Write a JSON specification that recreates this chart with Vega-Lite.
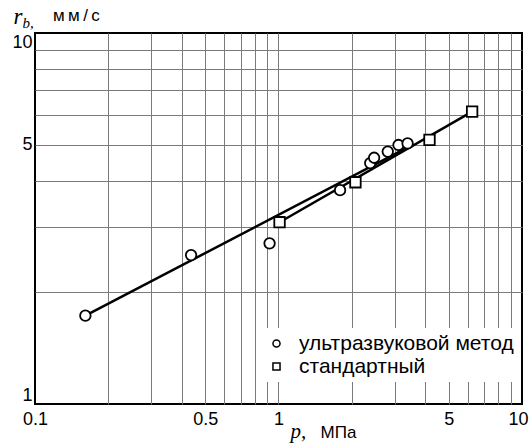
{
  "$schema": "https://vega.github.io/schema/vega-lite/v6.json",
  "width": 487,
  "height": 371,
  "autosize": {"type": "none"},
  "padding": {"left": 35, "top": 33, "right": 7, "bottom": 40},
  "background": "white",
  "config": {"view": {"stroke": "black", "strokeWidth": 2}, "font": "Liberation Sans", "point": {"opacity": 1}},
  "title": {"text": "м\u2009м\u2009/\u2009с", "anchor": "start", "frame": "group", "font": "Liberation Sans", "fontSize": 17, "fontWeight": "normal", "color": "black", "dx": 18, "dy": 33, "offset": 0, "baseline": "alphabetic"},
  "datasets": {
    "pts": [
      {"series": "ультразвуковой метод", "p": 0.161, "r": 1.73},
      {"series": "ультразвуковой метод", "p": 0.4375, "r": 2.52},
      {"series": "ультразвуковой метод", "p": 0.919, "r": 2.71},
      {"series": "ультразвуковой метод", "p": 1.79, "r": 3.77},
      {"series": "ультразвуковой метод", "p": 2.38, "r": 4.46},
      {"series": "ультразвуковой метод", "p": 2.47, "r": 4.61},
      {"series": "ультразвуковой метод", "p": 2.81, "r": 4.79},
      {"series": "ультразвуковой метод", "p": 3.11, "r": 4.99},
      {"series": "ультразвуковой метод", "p": 3.39, "r": 5.04},
      {"series": "стандартный", "p": 1.01, "r": 3.09},
      {"series": "стандартный", "p": 2.07, "r": 3.96},
      {"series": "стандартный", "p": 4.17, "r": 5.15},
      {"series": "стандартный", "p": 6.24, "r": 6.14}
    ],
    "fit": [
      {"line": "u", "p": 0.161, "r": 1.73},
      {"line": "u", "p": 3.5, "r": 4.97},
      {"line": "s", "p": 1.01, "r": 3.09},
      {"line": "s", "p": 6.24, "r": 6.14}
    ]
  },
  "layer": [
    {
      "data": {"name": "fit"},
      "mark": {"type": "line", "color": "black", "strokeWidth": 2.5},
      "encoding": {
        "x": {
          "field": "p", "type": "quantitative",
          "scale": {"type": "log", "domain": [0.1, 10]},
          "axis": {
            "orient": "bottom",
            "values": [0.1, 0.2, 0.3, 0.4, 0.5, 0.6, 0.7, 0.8, 0.9, 1, 2, 3, 4, 5, 6, 7, 8, 9, 10],
            "format": "~g",
            "labelExpr": "(datum.value == 0.1 || datum.value == 0.5 || datum.value == 1 || datum.value == 5 || datum.value == 10) ? datum.label : ''",
            "grid": true,
            "gridColor": {"condition": {"test": "datum.value == 0.1 || datum.value == 10", "value": "transparent"}, "value": "#7a7a7a"},
            "gridWidth": 1,
            "ticks": false,
            "domain": false,
            "labelFont": "Liberation Sans",
            "labelFontSize": 18,
            "labelColor": "black",
            "labelPadding": 6,
            "labelFlush": false,
            "labelOverlap": false,
            "labelOffset": {"condition": {"test": "datum.value == 10", "value": -4}, "value": 0},
            "title": "p,",
            "titleFont": "Liberation Serif",
            "titleFontStyle": "italic",
            "titleFontWeight": "normal",
            "titleFontSize": 21,
            "titleColor": "black",
            "titleX": 255,
            "titleY": 33,
            "titleAlign": "left",
            "titleBaseline": "alphabetic"
          }
        },
        "y": {
          "field": "r", "type": "quantitative",
          "scale": {"type": "log", "domain": [1, 10]},
          "axis": {
            "orient": "left",
            "values": [1, 2, 3, 4, 5, 6, 7, 8, 9, 10],
            "format": "~g",
            "labelExpr": "(datum.value == 1 || datum.value == 5 || datum.value == 10) ? datum.label : ''",
            "grid": true,
            "gridColor": {"condition": {"test": "datum.value == 1 || datum.value == 10", "value": "transparent"}, "value": "#7a7a7a"},
            "gridWidth": 1,
            "ticks": false,
            "domain": false,
            "labelFont": "Liberation Sans",
            "labelFontSize": 18,
            "labelColor": "black",
            "labelPadding": 3,
            "labelFlush": true,
            "labelOverlap": false,
            "title": "r",
            "titleFont": "Liberation Serif",
            "titleFontStyle": "italic",
            "titleFontWeight": "normal",
            "titleFontSize": 23,
            "titleColor": "black",
            "titleAngle": 0,
            "titleX": -22,
            "titleY": -10,
            "titleAlign": "left",
            "titleBaseline": "alphabetic"
          }
        },
        "detail": {"field": "line", "type": "nominal"}
      }
    },
    {
      "data": {"name": "pts"},
      "mark": {"type": "point", "filled": true, "color": "white", "stroke": "black", "strokeWidth": 1.8, "size": 110},
      "encoding": {
        "x": {
          "field": "p", "type": "quantitative",
          "scale": {"type": "log", "domain": [0.1, 10]},
          "axis": {
            "orient": "top", "labels": false, "ticks": false, "domain": false, "grid": false,
            "title": "МПа",
            "titleFont": "Liberation Sans",
            "titleFontSize": 17,
            "titleFontWeight": "normal",
            "titleColor": "black",
            "titleX": 285,
            "titleY": 404,
            "titleAlign": "left",
            "titleBaseline": "alphabetic"
          }
        },
        "y": {
          "field": "r", "type": "quantitative",
          "scale": {"type": "log", "domain": [1, 10]},
          "axis": {
            "orient": "right", "labels": false, "ticks": false, "domain": false, "grid": false,
            "title": "b,",
            "titleFont": "Liberation Serif",
            "titleFontStyle": "italic",
            "titleFontWeight": "normal",
            "titleFontSize": 15,
            "titleColor": "black",
            "titleAngle": 0,
            "titleX": -500,
            "titleY": -6,
            "titleAlign": "left",
            "titleBaseline": "alphabetic"
          }
        },
        "shape": {
          "field": "series", "type": "nominal",
          "scale": {"domain": ["ультразвуковой метод", "стандартный"], "range": ["circle", "square"]},
          "legend": {
            "orient": "none",
            "legendX": 226,
            "legendY": 295,
            "title": null,
            "fillColor": "white",
            "padding": 5,
            "labelFont": "Liberation Sans",
            "labelFontSize": 21,
            "labelColor": "black",
            "labelLimit": 0,
            "labelOffset": 12,
            "symbolSize": 50,
            "rowPadding": 1
          }
        }
      }
    }
  ],
  "resolve": {"axis": {"x": "independent", "y": "independent"}}
}
